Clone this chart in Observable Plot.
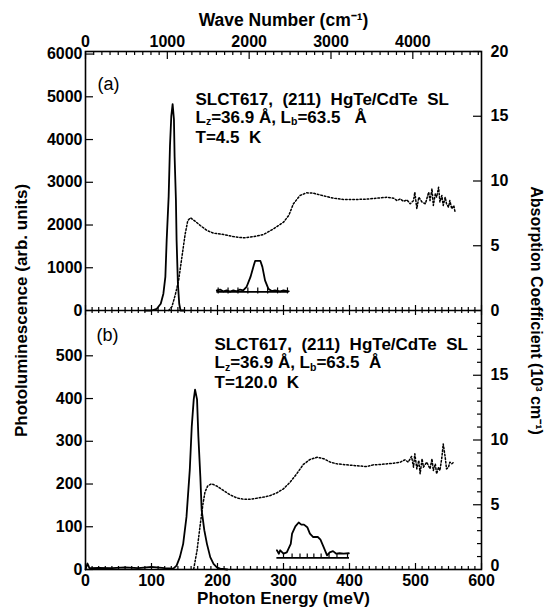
<!DOCTYPE html>
<html><head><meta charset="utf-8">
<script src="https://cdn.jsdelivr.net/npm/d3@7"></script>
<script src="https://cdn.jsdelivr.net/npm/@observablehq/plot@0.6"></script>
<style>body{margin:0;background:#fff}</style>
</head><body><div id="chart"></div>
<script>
// ---------- data ----------
// panel (a) T=4.5 K : photoluminescence (solid)
const plA_E = [90, 100, 108, 114, 118, 121, 123, 126, 128, 130, 132, 134, 135, 137, 138, 140, 142, 144, 150];
const plA_I = [0, 0, 40, 157, 393, 785, 1650, 2670, 3850, 4550, 4830, 4475, 3610, 2590, 1650, 630, 157, 0, 0];
// panel (a) absorption (dotted), 10^3 cm^-1
const absA_E = [126,131,136,141,146,151,155,159,166,174,184,194,209,224,239,255,270,285,300,308,315,325,335,345,361,376,391,406,426,441,457,467,
  472,477,482,487,492,497,499,502,505,510,515,520,522,525,527,530,532,535,537,540,542,545,547,550,552,555,558,560];
const absA_A = [0,0.3,1.2,2.3,4.1,5.9,6.95,7.16,6.9,6.56,6.18,5.97,5.87,5.71,5.61,5.71,5.87,6.31,6.82,7.34,8.24,8.88,9.09,9.06,8.85,8.67,8.57,8.57,8.6,8.67,8.75,8.67,
  8.49,8.62,8.42,8.55,8.24,8.49,9.14,7.85,8.75,8.37,8.24,9.14,8.49,9.4,8.11,9.01,8.75,9.52,8.37,8.88,8.11,8.75,8.24,7.98,8.49,7.85,8.11,7.59];
// panel (a) inset
const insA_E = [199,204,209,214,219,224,229,234,239,244,250,255,257,265,268,272,277,282,287,295,300,308];
const insA_I = [470,490,445,470,440,470,450,490,470,550,785,1060,1160,1160,1020,705,510,455,470,445,470,450];
const insA_base = 435;
const insA_span = [199, 308];
const insA_ticks = [201, 216, 231, 246, 261, 276, 291, 306];

// panel (b) T=120 K : photoluminescence (solid)
const plB_E = [0, 3, 6, 20, 40, 60, 80, 100, 120, 133, 138, 143, 148, 153, 158, 161, 164, 166, 169, 171, 174, 176, 180, 184, 189, 194, 199, 204, 215];
const plB_I = [0, 14, 3, 4, 3, 5, 3, 6, 3, 2, 9, 29, 60, 123, 233, 335, 398, 421, 398, 312, 217, 139, 92, 60, 29, 13, 5, 2, 0];
// panel (b) absorption (dotted)
const absB_E = [164,169,174,178,181,185,191,199,209,219,229,239,250,260,270,280,290,300,310,320,330,340,351,361,371,381,396,411,426,436,446,457,467,477,
  484,489,494,497,499,502,505,507,510,512,517,522,525,527,530,532,535,537,540,542,545,547,550,552,555,558];
const absB_A = [0.05,1.47,3.53,5.07,5.97,6.44,6.62,6.44,6.10,5.77,5.53,5.43,5.43,5.51,5.59,5.71,5.92,6.23,6.74,7.39,8.11,8.49,8.67,8.55,8.29,8.16,8.08,8.01,7.95,8.08,8.11,8.16,8.21,8.29,
  8.47,8.29,8.73,7.90,8.93,7.77,8.42,7.39,8.55,7.90,8.29,7.77,8.55,7.64,8.16,7.39,7.90,7.64,8.67,9.70,8.67,7.77,7.90,8.29,8.16,8.29];
// panel (b) inset
const insB_E = [290, 293, 295, 300, 305, 311, 313, 318, 323, 327, 331, 336, 340, 345, 352, 356, 361, 366, 370, 375, 380, 385, 391, 399];
const insB_I = [45, 37, 45, 37, 40, 60, 84, 101, 110, 105, 105, 99, 84, 76, 76, 70, 52, 33, 40, 43, 37, 38, 37, 38];
const insB_base = 27;
const insB_span = [290, 400];
const insB_ticks = [300, 313, 325, 336, 346, 357, 369, 381, 397];

// axes / tick labels
const energyTicks = [0, 100, 200, 300, 400, 500, 600];
const wnTicks = [0, 1000, 2000, 3000, 4000];
const plTopTicks = [0, 1000, 2000, 3000, 4000, 5000, 6000];
const plBotTicks = [0, 100, 200, 300, 400, 500];
const absTopTicks = [0, 5, 10, 15, 20];
const absBotTicks = [5, 10, 15];
const absBotZero = [0];
const PL_TOP_MAX = 6060, PL_BOT_MAX = 606, ABS_MAX = 20;
const WN_PER_MEV = 8.0655;

const textA = ["SLCT617,  (211)  HgTe/CdTe  SL", "Lz=36.9 Å, Lb=63.5   Å", "T=4.5  K"];
const textB = ["SLCT617,  (211)  HgTe/CdTe  SL", "Lz=36.9 Å, Lb=63.5  Å", "T=120.0  K"];

// ---------- build ----------
// stacked panels share one y scale: panel (a) occupies [1,2], panel (b) [0,1]
const yA = v => 1 + v / PL_TOP_MAX, yB = v => v / PL_BOT_MAX;
const yAa = v => 1 + v / ABS_MAX, yBa = v => v / ABS_MAX;
const zipT = (E, V, f) => E.map((e, i) => ({e, y: f(V[i])}));

const plA = zipT(plA_E, plA_I, yA), absA = zipT(absA_E, absA_A, yAa), insA = zipT(insA_E, insA_I, yA);
const plB = zipT(plB_E, plB_I, yB), absB = zipT(absB_E, absB_A, yBa), insB = zipT(insB_E, insB_I, yB);

const leftLabel = new Map();
plTopTicks.forEach(v => leftLabel.set(yA(v), String(v)));
plBotTicks.forEach(v => leftLabel.set(yB(v), String(v)));
const rightTop = new Map(), rightBot = new Map(), rightZero = new Map();
absTopTicks.forEach(v => rightTop.set(yAa(v), String(v)));
absBotTicks.forEach(v => rightBot.set(yBa(v), String(v)));
absBotZero.forEach(v => rightZero.set(yBa(v), String(v)));

const range = (a, b, s) => d3.range(a, b + s / 2, s);
const minorE = range(0, 600, 10).filter(v => v % 100 !== 0);
const wnMinor = range(0, 4800, 100).filter(v => v % 1000 !== 0).map(w => w / WN_PER_MEV).filter(v => v <= 600);
const absBotMinor = range(0, 20, 1).filter(v => v % 5 !== 0).map(yBa);

const ink = "black";
const tX = (vals, yv, up, down, sw = 1.2) => Plot.ruleX(vals, {x: d => d, y1: yv, y2: yv, insetTop: -up, insetBottom: -down, stroke: ink, strokeWidth: sw});
const tY = (vals, xv, left, right, sw = 1.2) => Plot.ruleY(vals, {y: d => d, x1: xv, x2: xv, insetLeft: -left, insetRight: -right, stroke: ink, strokeWidth: sw});

const chart = Plot.plot({
  width: 548, height: 615,
  marginLeft: 85, marginRight: 67, marginTop: 51, marginBottom: 46,
  x: {domain: [0, 600], axis: null},
  y: {domain: [0, 2], axis: null},
  style: {fontFamily: '"Liberation Sans", Arial, Helvetica, sans-serif', fontSize: "16px", fontWeight: "bold", color: "black", background: "white"},
  marks: [
    // data curves
    Plot.line(plA, {x: "e", y: "y", stroke: ink, strokeWidth: 1.8}),
    Plot.line(absA, {x: "e", y: "y", stroke: ink, strokeWidth: 1.5, strokeDasharray: "1.6,2"}),
    Plot.line(insA, {x: "e", y: "y", stroke: ink, strokeWidth: 1.8}),
    Plot.ruleY([insA_base], {y: d => yA(d), x1: insA_span[0], x2: insA_span[1], stroke: ink, strokeWidth: 1.8}),
    tX(insA_ticks, yA(insA_base), 4, 2, 1.2),
    Plot.line(plB, {x: "e", y: "y", stroke: ink, strokeWidth: 1.8}),
    Plot.line(absB, {x: "e", y: "y", stroke: ink, strokeWidth: 1.5, strokeDasharray: "1.6,2"}),
    Plot.line(insB, {x: "e", y: "y", stroke: ink, strokeWidth: 1.8}),
    Plot.ruleY([insB_base], {y: d => yB(d), x1: insB_span[0], x2: insB_span[1], stroke: ink, strokeWidth: 1.8}),
    tX(insB_ticks, yB(insB_base), 4, 0, 1.2),
    // frame + separator
    Plot.frame({stroke: ink, strokeWidth: 1.6}),
    Plot.ruleY([1], {stroke: ink, strokeWidth: 1.6}),
    // ticks
    tX(wnTicks.map(w => w / WN_PER_MEV), 2, 0, 8),
    tX(wnMinor, 2, 0, 4),
    tX(energyTicks, 0, 6, 0),
    tX(minorE, 0, 3, 0),
    tX(energyTicks, 1, 5, 5),
    tX(minorE, 1, 3, 3),
    tY([...leftLabel.keys()], 0, 0, 8),
    tY([...rightTop.keys(), ...rightBot.keys()], 600, 8, 0),
    tY(absBotMinor, 600, 4, 0),
    // tick labels
    Plot.axisX(energyTicks, {anchor: "bottom", tickSize: 0, tickPadding: 5, tickFormat: d => String(d), label: null}),
    Plot.axisX(wnTicks.map(w => w / WN_PER_MEV), {anchor: "top", tickSize: 0, tickPadding: 5, tickFormat: v => String(Math.round(v * WN_PER_MEV)), label: null}),
    Plot.axisY([...leftLabel.keys()], {anchor: "left", tickSize: 0, tickPadding: 3, tickFormat: v => leftLabel.get(v), label: null}),
    Plot.axisY([...rightTop.keys()], {anchor: "right", tickSize: 0, tickPadding: 9, tickFormat: v => rightTop.get(v), label: null}),
    Plot.axisY([...rightBot.keys()], {anchor: "right", tickSize: 0, tickPadding: 9, tickFormat: v => rightBot.get(v), label: null}),
    Plot.axisY([...rightZero.keys()], {anchor: "right", tickSize: 0, tickPadding: 9, dy: -4, tickFormat: v => rightZero.get(v), label: null}),
    // axis titles
    Plot.text(["Wave Number (cm⁻¹)"], {frameAnchor: "top", dy: -38, fontSize: 17.5}),
    Plot.text(["Photon Energy (meV)"], {frameAnchor: "bottom", dy: 34, fontSize: 17}),
    Plot.text(["Photoluminescence (arb. units)"], {frameAnchor: "left", dx: -64, rotate: -90, fontSize: 17, textAnchor: "middle"}),
    Plot.text(["Absorption Coefficient (10³ cm⁻¹)"], {frameAnchor: "right", dx: 55, rotate: 90, fontSize: 16, textAnchor: "middle"}),
    // panel labels and annotations
    Plot.text(["(a)"], {frameAnchor: "top-left", dx: 12, dy: 26, fontSize: 18, fontWeight: "normal", textAnchor: "start", letterSpacing: 1.5}),
    Plot.text(["(b)"], {frameAnchor: "left", dx: 11, dy: 25, fontSize: 18, fontWeight: "normal", textAnchor: "start", letterSpacing: 1}),
    ...textA.map((t, i) => Plot.text([t], {frameAnchor: "top-left", dx: 110, dy: [41, 59, 79][i], fontSize: 17, textAnchor: "start"})),
    ...textB.map((t, i) => Plot.text([t], {frameAnchor: "left", dx: 129, dy: [34, 52.5, 72][i], fontSize: 17, textAnchor: "start"}))
  ]
});
document.getElementById("chart").appendChild(chart);

// subscripts in the L lines
d3.select(chart).selectAll("text").filter(function () { return /^Lz=/.test(this.textContent); }).each(function () {
  const s = this.textContent;
  const m = s.match(/^L(z)(=36\.9 Å, )L(b)(=.*)$/);
  const el = d3.select(this).text(null);
  el.append("tspan").text("L");
  el.append("tspan").attr("dy", 2.5).attr("font-size", 10.5).text(m[1]);
  el.append("tspan").attr("dy", -2.5).text(m[2] + "L");
  el.append("tspan").attr("dy", 2.5).attr("font-size", 10.5).text(m[3]);
  el.append("tspan").attr("dy", -2.5).text(m[4]);
});
</script></body></html>
